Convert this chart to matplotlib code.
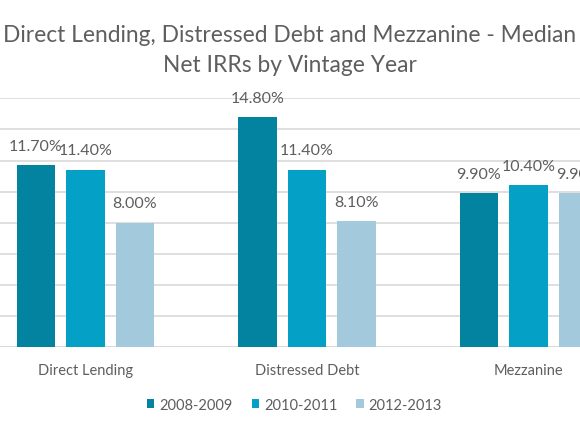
import matplotlib
matplotlib.use("Agg")
import matplotlib.pyplot as plt
import numpy as np

categories = ["Direct Lending", "Distressed Debt", "Mezzanine"]
series_names = ["2008-2009", "2010-2011", "2012-2013"]
values = {
    "2008-2009": [11.7, 14.8, 9.9],
    "2010-2011": [11.4, 11.4, 10.4],
    "2012-2013": [8.0, 8.1, 9.9],
}
colors = ["#03839F", "#05A0C5", "#A3C9DD"]
title = "Direct Lending, Distressed Debt and Mezzanine - Median\nNet IRRs by Vintage Year"

plt.rcParams['font.family'] = ['Lato', 'DejaVu Sans']
text_color = "#5E5E5E"

fig = plt.figure(figsize=(5.8, 4.35), dpi=100)
ax = fig.add_axes([-25.25 / 580, (435 - 348.3) / 435, 664.5 / 580, (348.3 - 99.3) / 435])

x = np.arange(len(categories))
step = 0.2235
width = 0.174
for i, name in enumerate(series_names):
    vals = values[name]
    bars = ax.bar(x + (i - 1) * step, vals, width, color=colors[i], label=name, zorder=3)
    for b, v in zip(bars, vals):
        ax.text(b.get_x() + b.get_width() / 2, v + 0.8, f"{v:.2f}%",
                ha="center", va="bottom", fontsize=11.5, color=text_color)

ax.set_xlim(-0.5, 2.5)
ax.set_ylim(0, 16)
ax.set_yticks(np.arange(0, 17, 2))
ax.yaxis.grid(True, color="#D9D9D9", linewidth=1.2, zorder=0)
ax.tick_params(axis="y", left=False, labelleft=False)
ax.tick_params(axis="x", bottom=False)
ax.set_xticks(x)
ax.set_xticklabels(categories, fontsize=10.5, color=text_color)
ax.tick_params(axis="x", pad=8)
for s in ax.spines.values():
    s.set_visible(False)
ax.axhline(0, color="#D9D9D9", linewidth=1.2, zorder=2)

fig.text(0.5, 1 - 25 / 435, title, ha="center", va="top", fontsize=16.4, color=text_color,
         linespacing=1.5)

handles, labels = ax.get_legend_handles_labels()
fig.legend(handles, labels, loc="center", bbox_to_anchor=(294.5 / 580, (435 - 405.7) / 435),
           ncol=3, frameon=False, fontsize=10.5, labelcolor=text_color,
           handlelength=0.5, handleheight=0.5, handletextpad=0.35, columnspacing=1.3)

fig.savefig("out.png", dpi=100)
